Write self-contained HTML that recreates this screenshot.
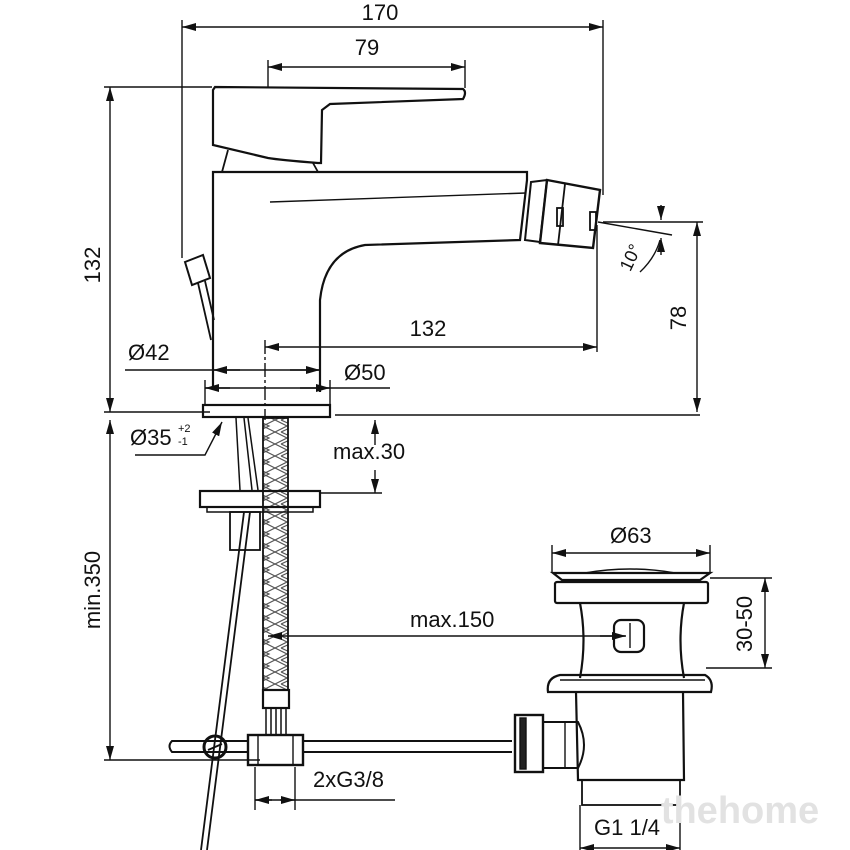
<!DOCTYPE html>
<html><head><meta charset="utf-8"><style>
html,body{margin:0;padding:0;background:#fff}
svg{display:block}
text{font-family:"Liberation Sans",sans-serif;font-size:22px;fill:#111}
</style></head><body>
<svg width="850" height="850" viewBox="0 0 850 850" xmlns="http://www.w3.org/2000/svg">
<defs>
<marker id="a" viewBox="0 0 14 8" refX="14" refY="4" markerWidth="14" markerHeight="8" markerUnits="userSpaceOnUse" orient="auto-start-reverse"><path d="M0,0L14,4L0,8z" fill="#111"/></marker>
<pattern id="braid" width="25" height="12" patternUnits="userSpaceOnUse"><path d="M0,0L12,6L0,12M25,0L13,6L25,12M6,0L19,6L6,12" stroke="#555" stroke-width="1.2" fill="none"/></pattern>
</defs>
<g stroke="#111" stroke-width="1.4" fill="none">
<line x1="182" y1="27" x2="603" y2="27" marker-start="url(#a)" marker-end="url(#a)"/>
<line x1="182" y1="20" x2="182" y2="258"/>
<line x1="603" y1="20" x2="603" y2="195"/>
<line x1="268" y1="67" x2="465" y2="67" marker-start="url(#a)" marker-end="url(#a)"/>
<line x1="268" y1="60" x2="268" y2="88"/><line x1="465" y1="60" x2="465" y2="88"/>
<line x1="110" y1="87" x2="110" y2="412" marker-start="url(#a)" marker-end="url(#a)"/>
<line x1="104" y1="87" x2="212" y2="87"/>
<line x1="104" y1="412" x2="210" y2="412"/>
<line x1="335" y1="415" x2="700" y2="415"/>
<line x1="110" y1="420" x2="110" y2="760" marker-start="url(#a)" marker-end="url(#a)"/>
<line x1="104" y1="760" x2="260" y2="760"/>
<line x1="697" y1="222" x2="697" y2="412" marker-start="url(#a)" marker-end="url(#a)"/>
<line x1="603" y1="222" x2="703" y2="222"/>
<line x1="598" y1="222" x2="672" y2="235"/>
<line x1="661" y1="205" x2="661" y2="220" marker-end="url(#a)"/>
<line x1="661" y1="255" x2="661" y2="238" marker-end="url(#a)"/>
<path d="M660,240 Q655,258 640,272"/>
<line x1="265" y1="347" x2="597" y2="347" marker-start="url(#a)" marker-end="url(#a)"/>
<line x1="597" y1="225" x2="597" y2="352"/>
<line x1="265" y1="340" x2="265" y2="420" stroke-dasharray="14,3,3,3"/>
<line x1="125" y1="370" x2="320" y2="370"/>
<line x1="240" y1="370" x2="213" y2="370" marker-end="url(#a)"/>
<line x1="290" y1="370" x2="320" y2="370" marker-end="url(#a)"/>
<line x1="205" y1="388" x2="390" y2="388"/>
<line x1="230" y1="388" x2="205" y2="388" marker-end="url(#a)"/>
<line x1="300" y1="388" x2="330" y2="388" marker-end="url(#a)"/>
<line x1="205" y1="380" x2="205" y2="405"/><line x1="330" y1="380" x2="330" y2="405"/>
<path d="M215,87 L463,89 Q467,92 463,99 L330,104 L322,110 L321,163 L318,163 Q280,160 268,158 L213,145 L213,90 Z" stroke-width="2.2"/>
<path d="M228,150 L222,172 M313,163 L318,172" stroke-width="1.8"/>
<path d="M213,390 L213,172 L527,172 L527,180 L520,240 L365,245 Q325,252 320,300 L320,392" stroke-width="2.2"/>
<line x1="270" y1="202" x2="526" y2="193"/>
<path d="M531,182 L547,180 L540,242 L525,240 Z" stroke-width="2"/>
<path d="M547,180 L600,190 L593,248 L540,243 Z" stroke-width="2.4"/>
<line x1="565" y1="184" x2="558" y2="245" stroke-width="1.8"/>
<rect x="590" y="212" width="6" height="18" stroke-width="1.8"/>
<rect x="557" y="208" width="6" height="18" stroke-width="1.8"/>
<path d="M185,262 L203,255 L210,278 L192,285 Z" stroke-width="2"/>
<path d="M198,283 L211,340 M205,281 L214,320" stroke-width="1.8"/>
<rect x="203" y="405" width="127" height="12" stroke-width="2.2"/>
<path d="M135,455 L205,455 L222,422" marker-end="url(#a)"/>
<rect x="263" y="418" width="25" height="272" fill="url(#braid)" stroke-width="1.8"/>
<path d="M236,418 L240,490 M244,418 L252,490 M248,418 L258,490" stroke-width="1.5"/>
<line x1="375" y1="445" x2="375" y2="420" marker-end="url(#a)"/>
<line x1="375" y1="470" x2="375" y2="493" marker-end="url(#a)"/>
<line x1="320" y1="493" x2="382" y2="493"/>
<rect x="200" y="491" width="120" height="16" stroke-width="2.2"/>
<rect x="207" y="507" width="106" height="5" stroke-width="1.5"/>
<rect x="230" y="512" width="30" height="38" stroke-width="1.8"/>
<path d="M250,512 L207,850 M244,512 L201,850" stroke-width="1.8"/>
<line x1="625" y1="636" x2="268" y2="636" marker-end="url(#a)"/>
<line x1="600" y1="636" x2="626" y2="636" marker-end="url(#a)"/>
<rect x="263" y="690" width="26" height="18" stroke-width="2.2"/>
<path d="M266,708 L266,735 M271,708 L271,735 M276,708 L276,735 M281,708 L281,735 M286,708 L286,735" stroke-width="1.5"/>
<rect x="248" y="735" width="55" height="30" stroke-width="2.4"/>
<line x1="258" y1="735" x2="258" y2="765"/><line x1="293" y1="735" x2="293" y2="765"/>
<path d="M303,741 L512,741 M303,752 L512,752" stroke-width="2"/>
<path d="M248,741 L172,741 Q167,746 172,752 L248,752" stroke-width="2"/>
<circle cx="215" cy="747" r="11" stroke-width="3"/>
<line x1="208" y1="750" x2="222" y2="744" stroke-width="1.8"/>
<path d="M553,573 L710,573 L700,580 L562,580 Z" stroke-width="2.2"/>
<path d="M585,573 Q630,565 675,573" stroke-width="1.5"/>
<rect x="555" y="582" width="153" height="21" rx="2" stroke-width="2.2"/>
<path d="M580,603 Q587,640 580,678 M684,603 Q677,640 684,678" stroke-width="2.2"/>
<rect x="614" y="620" width="30" height="32" rx="7" stroke-width="2.2"/>
<line x1="630" y1="623" x2="630" y2="648"/>
<path d="M548,692 Q546,678 560,675 L705,675 Q714,680 711,692 Z" stroke-width="2.2"/>
<line x1="560" y1="680" x2="705" y2="680"/>
<path d="M576,692 L578,780 L684,780 L683,692" stroke-width="2.2"/>
<rect x="582" y="780" width="98" height="25" stroke-width="1.8"/>
<path d="M543,722 L578,722 Q590,745 578,768 L543,768" stroke-width="2"/>
<line x1="565" y1="722" x2="565" y2="768"/>
<rect x="515" y="715" width="28" height="57" stroke-width="2.4"/>
<rect x="520" y="718" width="6" height="51" fill="#222"/>
<line x1="552" y1="553" x2="710" y2="553" marker-start="url(#a)" marker-end="url(#a)"/>
<line x1="552" y1="545" x2="552" y2="572"/><line x1="710" y1="545" x2="710" y2="572"/>
<line x1="765" y1="578" x2="765" y2="668" marker-start="url(#a)" marker-end="url(#a)"/>
<line x1="710" y1="578" x2="772" y2="578"/><line x1="706" y1="668" x2="772" y2="668"/>
<line x1="255" y1="800" x2="395" y2="800"/>
<line x1="255" y1="800" x2="272" y2="800" marker-start="url(#a)"/>
<line x1="280" y1="800" x2="295" y2="800" marker-end="url(#a)"/>
<line x1="255" y1="767" x2="255" y2="810"/><line x1="295" y1="767" x2="295" y2="810"/>
<line x1="580" y1="848" x2="680" y2="848" marker-start="url(#a)" marker-end="url(#a)"/>
<line x1="580" y1="805" x2="580" y2="850"/><line x1="680" y1="805" x2="680" y2="850"/>
</g>
<text x="380" y="20" text-anchor="middle">170</text>
<text x="367" y="55" text-anchor="middle">79</text>
<text x="428" y="336" text-anchor="middle">132</text>
<text x="128" y="360">Ø42</text>
<text x="344" y="380">Ø50</text>
<text x="130" y="445">Ø35</text>
<text x="178" y="432" style="font-size:11px">+2</text>
<text x="178" y="445" style="font-size:11px">-1</text>
<text x="333" y="459">max.30</text>
<text x="410" y="627">max.150</text>
<text x="610" y="543">Ø63</text>
<text x="313" y="787">2xG3/8</text>
<text x="594" y="835">G1 1/4</text>
<text transform="translate(100,265) rotate(-90)" text-anchor="middle">132</text>
<text transform="translate(100,590) rotate(-90)" text-anchor="middle">min.350</text>
<text transform="translate(686,318) rotate(-90)" text-anchor="middle">78</text>
<text transform="translate(752,624) rotate(-90)" text-anchor="middle">30-50</text>
<text transform="translate(636,260) rotate(-65)" text-anchor="middle" style="font-size:18px">10°</text>
<text x="740" y="823" text-anchor="middle" style="font-size:38px;font-weight:bold;fill:#e2e2e2">thehome</text>
</svg>
</body></html>
